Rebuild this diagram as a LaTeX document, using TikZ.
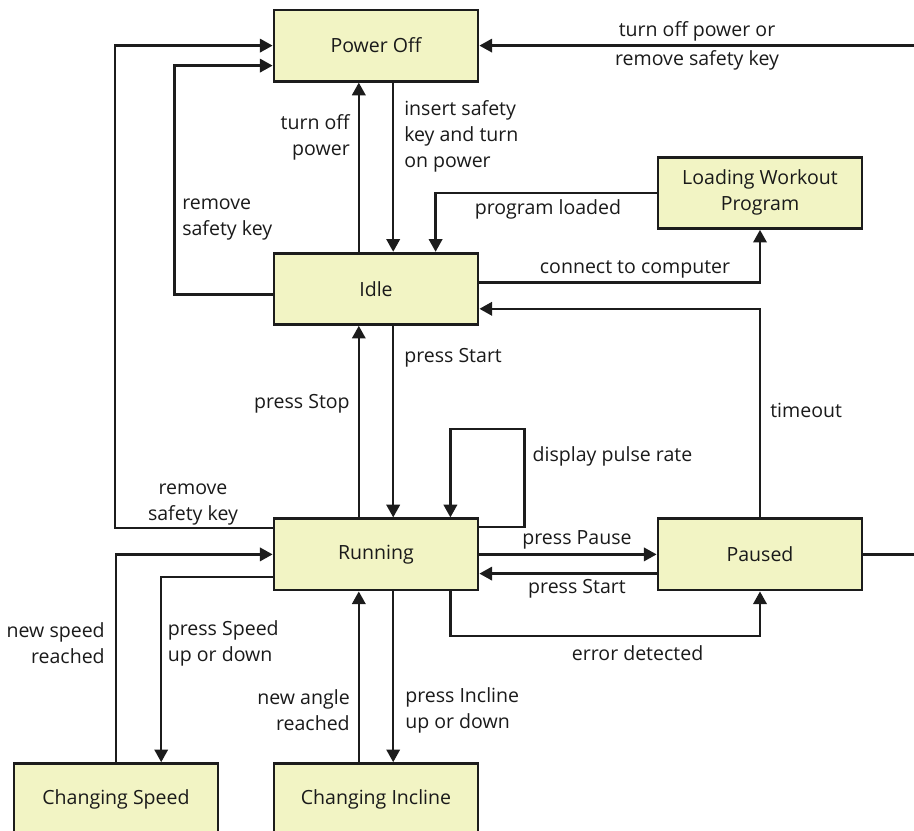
\documentclass[tikz,border=0pt]{standalone}
\usepackage{fontspec}
\setmainfont{Open Sans}
\usetikzlibrary{arrows.meta, positioning}
\definecolor{stfill}{HTML}{F2F4C4}
\definecolor{stline}{HTML}{1C1C1C}
\definecolor{ink}{HTML}{1A1A1A}

\begin{document}
\begin{tikzpicture}[
  font=\fontsize{13.9}{18.5}\selectfont, text=ink,
  state/.style={draw=stline, fill=stfill, line width=2pt,
                minimum width=5.1cm, minimum height=1.78cm, align=center},
  lbl/.style={inner sep=0pt, align=#1},
  lbl/.default=center,
  arr/.style={-{Triangle[length=9pt, width=9.5pt]}, line width=1.7pt,
              draw=stline, line join=miter}
]
\path[use as bounding box, clip] (0,0) rectangle (22.85,-20.775);

%% States
\node[state] (off)  at (9.4,-1.14)   {Power Off};
\node[state] (load) at (19.0,-4.82)  {Loading Workout\\Program};
\node[state] (idle) at (9.4,-7.22)   {Idle};
\node[state] (run)  at (9.4,-13.86)  {Running};
\node[state] (pau)  at (19.0,-13.86) {Paused};
\node[state] (spd)  at (2.9,-19.98)  {Changing Speed};
\node[state] (inc)  at (9.4,-19.98)  {Changing Incline};

%% Power Off <-> Idle
\draw[arr] ([xshift=0.43cm]off.south) -- ([xshift=0.43cm]idle.north);
\draw[arr] ([xshift=-0.43cm]idle.north) -- ([xshift=-0.43cm]off.south);
\draw[arr] ([yshift=-0.14cm]idle.west) -- ++(-2.45,0) |- ([yshift=-0.5cm]off.west);
\draw[arr] ([yshift=0.66cm]run.west) -- ++(-3.94,0) |- (off.west);
\draw[arr] (pau.east) -- ++(1.5,0) |- (off.east);

%% Loading workout program
\draw[arr] (load.west) -| ([xshift=1.49cm]idle.north);
\draw[arr] ([yshift=0.16cm]idle.east) -| (load.south);

%% Idle <-> Running, Paused
\draw[arr] ([xshift=0.43cm]idle.south) -- ([xshift=0.43cm]run.north);
\draw[arr] ([xshift=-0.43cm]run.north) -- ([xshift=-0.43cm]idle.south);
\draw[arr] (pau.north) |- ([yshift=-0.5cm]idle.east);
\draw[arr] ([yshift=0.68cm]run.east) -- ++(1.13,0) -- ++(0,2.46)
  -| ([xshift=1.86cm]run.north);
\draw[arr] (run.east) -- (pau.west);
\draw[arr] ([yshift=-0.48cm]pau.west) -- ([yshift=-0.48cm]run.east);
\draw[arr] ([xshift=1.86cm]run.south) -- ++(0,-1.11) -| (pau.south);

%% Speed and incline
\draw[arr] (spd.north) |- (run.west);
\draw[arr] ([yshift=-0.56cm]run.west) -| ([xshift=1.13cm]spd.north);
\draw[arr] ([xshift=-0.43cm]inc.north) -- ([xshift=-0.43cm]run.south);
\draw[arr] ([xshift=0.43cm]run.south) -- ([xshift=0.43cm]inc.north);

%% Labels
\node[lbl] (tOffOr) at (17.425,-1.14) {turn off power or\\[2pt]remove safety key};
\node[lbl=right, anchor=east] (tOff) at (8.75,-3.425) {turn off\\power};
\node[lbl=left, anchor=west] (tIns) at (10.1,-3.41) {insert safety\\key and turn\\on power};
\node[lbl=left, anchor=west] (tRem1) at (4.55,-5.49) {remove\\safety key};
\node[lbl] (tLoaded) at (13.7,-5.225) {program loaded};
\node[lbl] (tConn) at (15.875,-6.73) {connect to computer};
\node[lbl, anchor=west] (tStart1) at (10.1,-8.95) {press Start};
\node[lbl, anchor=east] (tStop) at (8.75,-10.1) {press Stop};
\node[lbl, anchor=west] (tTime) at (19.25,-10.27) {timeout};
\node[lbl, anchor=west] (tPulse) at (13.31,-11.42) {display pulse rate};
\node[lbl] (tRem2) at (4.825,-12.61) {remove\\safety key};
\node[lbl] (tPause) at (14.425,-13.5) {press Pause};
\node[lbl] (tStart2) at (14.425,-14.725) {press Start};
\node[lbl] (tErr) at (15.94,-16.33) {error detected};
\node[lbl=right, anchor=east] (tNewSpd) at (2.625,-16.09) {new speed\\reached};
\node[lbl=left, anchor=west] (tPrSpd) at (4.19,-16.09) {press Speed\\up or down};
\node[lbl=right, anchor=east] (tNewAng) at (8.75,-17.75) {new angle\\reached};
\node[lbl=left, anchor=west] (tPrInc) at (10.125,-17.75) {press Incline\\up or down};

\end{tikzpicture}
\end{document}
